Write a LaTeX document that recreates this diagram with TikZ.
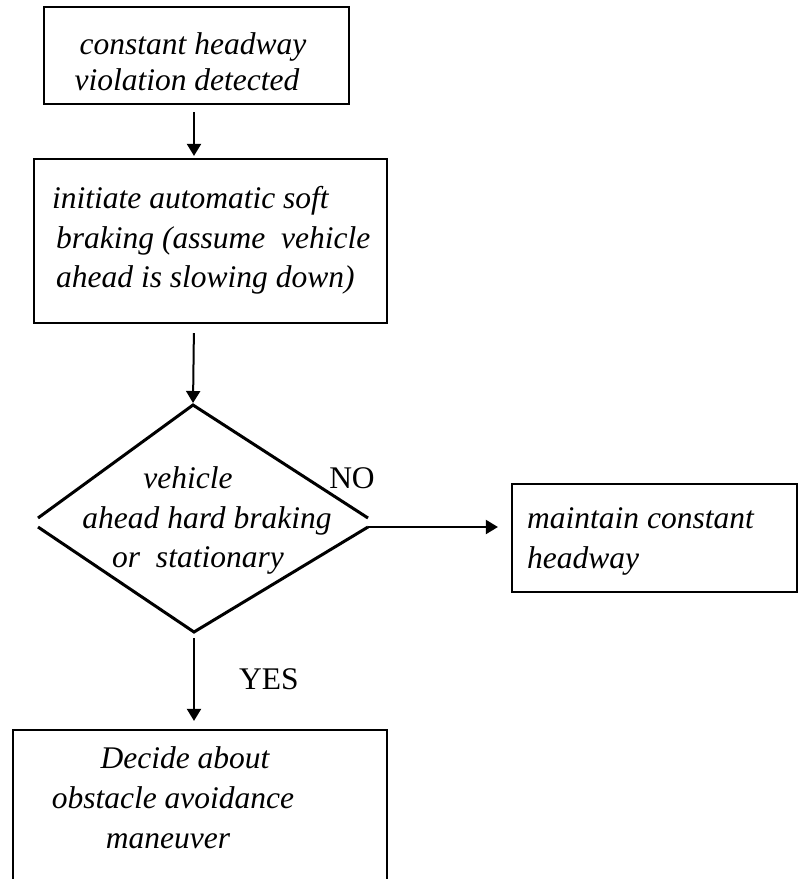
\documentclass[tikz,border=0pt]{standalone}
\usepackage{fontspec}
\setmainfont{Liberation Serif}
\usetikzlibrary{arrows.meta}
\begin{document}
\begin{tikzpicture}[x=1pt,y=-1pt,
  box/.style={draw, line width=2.2pt, inner sep=0pt},
  ln/.style={font=\fontsize{31.5}{38}\selectfont\itshape, inner sep=0pt, anchor=base},
  lnw/.style={ln, anchor=base west},
  lbl/.style={font=\fontsize{31.5}{38}\selectfont, inner sep=0pt, anchor=base},
  arr/.style={-{Triangle[length=12pt,width=14pt]}, line width=2pt},
  dia/.style={line width=3pt, line join=miter, line cap=butt},
]
\useasboundingbox (0,0) rectangle (799,879);
\clip (0,0) rectangle (799,879);

% boxes
\node[box, minimum width=305pt, minimum height=97pt] (b1) at (196.5,55.5) {};
\node[box, minimum width=353pt, minimum height=164pt] (b2) at (210.5,241) {};
\node[box, minimum width=285pt, minimum height=108pt] (b3) at (654.5,538) {};
\node[box, minimum width=374pt, minimum height=230pt] (b4) at (200,845) {};

% diamond (upper and lower halves)
\coordinate (dT) at (193,405);
\coordinate (dRu) at (368,518);
\coordinate (dLu) at (38,518);
\coordinate (dRl) at (368,527);
\coordinate (dLl) at (38,527);
\coordinate (dB) at (194,632);
\draw[dia] (dLu) -- (dT) -- (dRu);
\draw[dia] (dLl) -- (dB) -- (dRl);

% texts
\node[ln] (t1a) at (193,54) {constant headway};
\node[ln] (t1b) at (187,90) {violation detected};
\node[lnw] (t2a) at (52,208) {initiate automatic soft};
\node[lnw] (t2b) at (56,248) {braking (assume\ \ vehicle};
\node[lnw] (t2c) at (56,287) {ahead is slowing down)};
\node[ln] (t3a) at (188,488) {vehicle};
\node[ln] (t3b) at (207,528) {ahead hard braking};
\node[ln] (t3c) at (198,567) {or\ \ stationary};
\node[lnw] (t4a) at (527,528) {maintain constant};
\node[lnw] (t4b) at (527,568) {headway};
\node[ln] (t5a) at (185,768) {Decide about};
\node[ln] (t5b) at (173,808) {obstacle avoidance};
\node[ln] (t5c) at (168,848) {maneuver};
\node[lbl] (no) at (352,488) {NO};
\node[lbl] (yes) at (269,689) {YES};

% connectors
\draw[arr, shorten <=7pt, shorten >=2pt] (b1.south -| 194,0) -- (b2.north -| 194,0);
\draw[arr, shorten <=9pt, shorten >=2pt] (b2.south -| 194,0) -- (dT);
\draw[arr, shorten >=13pt] (dRl) -- (dRl -| b3.west);
\draw[arr, shorten <=6pt, shorten >=8pt] (dB) -- (dB |- b4.north);
\end{tikzpicture}
\end{document}
